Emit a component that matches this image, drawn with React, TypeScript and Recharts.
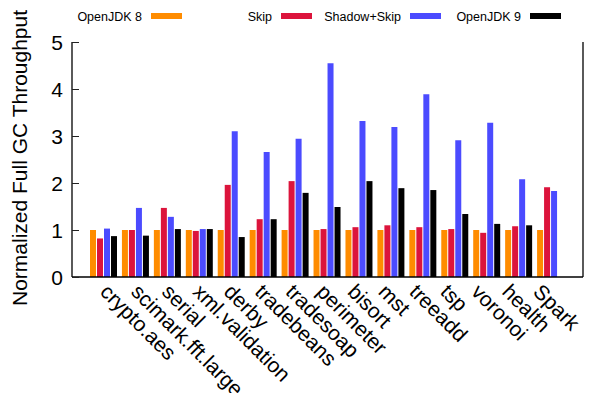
import { BarChart, Bar, XAxis, YAxis, Legend } from 'recharts'

const FONT = '"Liberation Sans", Arial, Helvetica, sans-serif'

const benchmarks = [
  'crypto.aes', 'scimark.fft.large', 'serial', 'xml.validation', 'derby',
  'tradebeans', 'tradesoap', 'perimeter', 'bisort', 'mst', 'treeadd', 'tsp',
  'voronoi', 'health', 'Spark',
]
const openJdk8 = [1, 1, 1, 1, 1, 1, 1, 1, 1, 1, 1, 1, 1, 1, 1]
const skip = [0.82, 1.0, 1.47, 0.98, 1.96, 1.23, 2.04, 1.02, 1.06, 1.1, 1.06, 1.02, 0.94, 1.08, 1.91]
const shadowSkip = [1.03, 1.47, 1.28, 1.02, 3.1, 2.66, 2.94, 4.55, 3.32, 3.19, 3.89, 2.91, 3.28, 2.08, 1.83]
const openJdk9 = [0.87, 0.88, 1.02, 1.02, 0.85, 1.23, 1.79, 1.49, 2.04, 1.89, 1.85, 1.34, 1.13, 1.1, null]
const yTicks = [0, 1, 2, 3, 4, 5]

const SERIES = [
  { key: 'jdk8', name: 'OpenJDK 8', colour: '#ff8c00' },
  { key: 'skip', name: 'Skip', colour: '#dc143c' },
  { key: 'shadow', name: 'Shadow+Skip', colour: '#4b4bff' },
  { key: 'jdk9', name: 'OpenJDK 9', colour: '#000000' },
]

// right edge of each legend entry's label; the swatch follows it
const LEGEND_TEXT_END = [142, 272, 401, 521]

const data = benchmarks.map((name, i) => ({
  name,
  jdk8: openJdk8[i],
  skip: skip[i],
  shadow: shadowSkip[i],
  jdk9: openJdk9[i],
}))

// gnuplot-style inward tick marks, snapped to whole pixels
const px = (v: number) => Math.round(v) + 0.5

// eslint-disable-next-line @typescript-eslint/no-explicit-any
function LeftTick({ x, y, payload }: any) {
  return (
    <g>
      <line x1={x} x2={x + 7} y1={px(y)} y2={px(y)} stroke="#222" />
      <text x={x - 9} y={y} dy={7.5} textAnchor="end" fontSize={21} fontFamily={FONT} fill="#000">
        {payload.value}
      </text>
    </g>
  )
}

// eslint-disable-next-line @typescript-eslint/no-explicit-any
function RightTick({ x, y }: any) {
  return <line x1={x} x2={x - 7} y1={px(y)} y2={px(y)} stroke="#222" />
}

// eslint-disable-next-line @typescript-eslint/no-explicit-any
function TopTick({ x, y }: any) {
  return <line x1={px(x)} x2={px(x)} y1={y} y2={y + 7} stroke="#222" />
}

// eslint-disable-next-line @typescript-eslint/no-explicit-any
function BottomTick({ x, y, payload, index }: any) {
  return (
    <text
      transform={`translate(${x - 5 - index}, ${y + 16}) rotate(45)`}
      fontSize={21}
      fontFamily={FONT}
      fill="#000"
    >
      {payload.value}
    </text>
  )
}

function KeyBox() {
  return (
    <svg width={603} height={30} style={{ display: 'block' }}>
      {SERIES.map((s, i) => (
        <g key={s.key}>
          <text x={LEGEND_TEXT_END[i]} y={20.5} textAnchor="end" fontSize={12.5} fontFamily={FONT} fill="#000">
            {s.name}
          </text>
          <rect x={LEGEND_TEXT_END[i] + 9} y={13} width={31} height={6} fill={s.colour} />
        </g>
      ))}
    </svg>
  )
}

export default function App() {
  return (
    <div style={{ position: 'absolute', left: 0, top: 0, width: 603, height: 393, background: '#fff' }}>
      <BarChart
        width={603}
        height={393}
        data={data}
        margin={{ top: 42, right: 0, left: 0, bottom: 0 }}
        barSize={6}
        barGap={1}
      >
        <XAxis
          dataKey="name"
          height={116}
          interval={0}
          padding={{ left: 16, right: 16 }}
          axisLine={{ stroke: '#000', strokeWidth: 1.3 }}
          tickLine={false}
          tickSize={0}
          tickMargin={0}
          tick={<BottomTick />}
        />
        <XAxis
          xAxisId="top"
          dataKey="name"
          orientation="top"
          height={0}
          interval={0}
          padding={{ left: 16, right: 16 }}
          axisLine={{ stroke: '#000', strokeWidth: 1.3 }}
          tickLine={false}
          tickSize={0}
          tickMargin={0}
          tick={<TopTick />}
        />
        <YAxis
          width={72}
          domain={[0, 5]}
          ticks={yTicks}
          interval={0}
          axisLine={{ stroke: '#000', strokeWidth: 1.3 }}
          tickLine={false}
          tickSize={0}
          tickMargin={0}
          tick={<LeftTick />}
          label={{
            value: 'Normalized Full GC Throughput',
            angle: -90,
            position: 'insideLeft',
            content: () => (
              <text
                transform="translate(27, 158) rotate(-90)"
                textAnchor="middle"
                fontSize={21}
                fontFamily={FONT}
                fill="#000"
              >
                Normalized Full GC Throughput
              </text>
            ),
          }}
        />
        <YAxis
          yAxisId="right"
          orientation="right"
          width={20}
          domain={[0, 5]}
          ticks={yTicks}
          interval={0}
          axisLine={{ stroke: '#000', strokeWidth: 1.3 }}
          tickLine={false}
          tickSize={0}
          tickMargin={0}
          tick={<RightTick />}
        />
        <Legend
          layout="horizontal"
          verticalAlign="middle"
          align="center"
          wrapperStyle={{ top: 0, left: 0, width: 603, height: 30 }}
          content={() => <KeyBox />}
        />
        {SERIES.map((s) => (
          <Bar key={s.key} dataKey={s.key} name={s.name} fill={s.colour} isAnimationActive={false} />
        ))}
      </BarChart>
    </div>
  )
}
